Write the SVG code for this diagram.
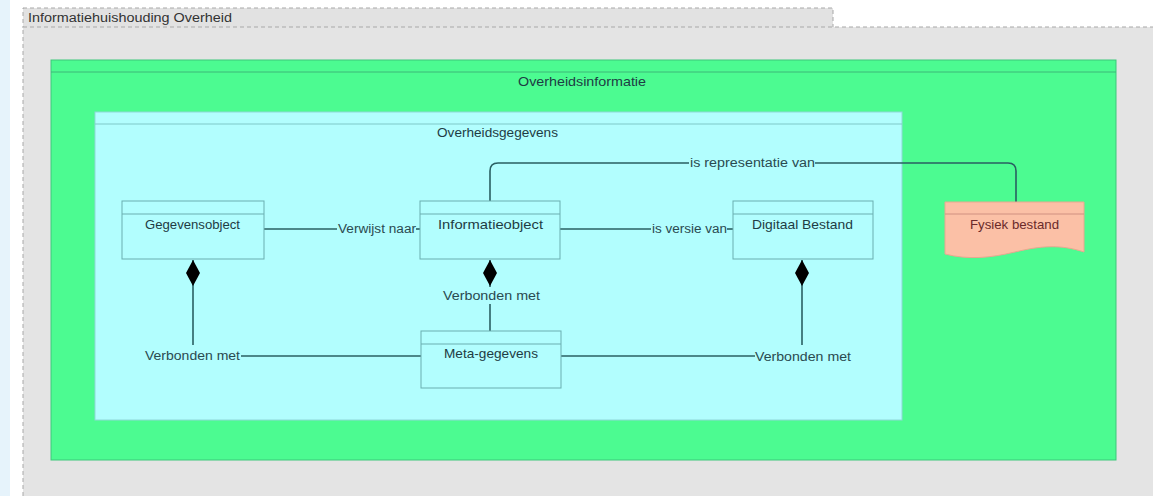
<svg xmlns="http://www.w3.org/2000/svg" width="1153" height="496" viewBox="0 0 1153 496">
<style>
text{font-family:"Liberation Sans",Arial,sans-serif;font-size:13px;fill:#1e3c44}
.node rect.box{fill:#b2fefe;stroke:#6aaeb0;stroke-width:1}
.hdr{stroke:#6aaeb0;stroke-width:1}
.conn path,.conn line{fill:none;stroke:#2a5f62;stroke-width:1.6}
.lbl{font-size:12.5px;fill:#2a4a50}
</style>
<defs>
<marker id="dia" viewBox="0 0 26 14" refX="0" refY="7" markerWidth="26" markerHeight="14" markerUnits="userSpaceOnUse" orient="auto">
<path d="M0 7 L13 0 L26 7 L13 14 Z" fill="#000"/>
</marker>
</defs>
<rect x="0" y="0" width="1153" height="496" fill="#ffffff"/>
<rect x="0" y="0" width="10" height="496" fill="#e6f3fb"/>
<g id="frame">
<rect x="23" y="8" width="810" height="20" fill="#e2e2e2" stroke="#a8a8a8" stroke-dasharray="4,3" stroke-width="1"/>
<rect x="23" y="27" width="1135" height="475" fill="#e4e4e4" stroke="#a8a8a8" stroke-dasharray="4,3" stroke-width="1"/>
<text x="28" y="22" textLength="204" lengthAdjust="spacingAndGlyphs" style="font-size:12.5px;fill:#333">Informatiehuishouding Overheid</text>
</g>
<g id="overheidsinformatie">
<rect x="51" y="60" width="1065" height="400" fill="#4cfb91" stroke="#3cc77a" stroke-width="1"/>
<line x1="51" y1="72" x2="1116" y2="72" stroke="#3cb878" stroke-width="1"/>
<text x="518" y="86" textLength="128" lengthAdjust="spacingAndGlyphs">Overheidsinformatie</text>
</g>
<g id="overheidsgegevens">
<rect x="95" y="112" width="807" height="308" fill="#b2fefe" stroke="#8ed8d8" stroke-width="1"/>
<line x1="95" y1="124" x2="902" y2="124" stroke="#7ec8c8" stroke-width="1"/>
<text x="437" y="137" textLength="121" lengthAdjust="spacingAndGlyphs">Overheidsgegevens</text>
</g>
<g class="conn" id="connectors">
<line x1="264" y1="229" x2="337" y2="229"/>
<line x1="416" y1="229" x2="420" y2="229"/>
<line x1="560" y1="229" x2="651" y2="229"/>
<line x1="727" y1="229" x2="733" y2="229"/>
<path d="M490 202 V171 Q490 163 498 163 H689"/>
<path d="M815 163 H1008 Q1016 163 1016 171 V202"/>
<line x1="193" y1="260" x2="193" y2="345" marker-start="url(#dia)"/>
<line x1="241" y1="356" x2="421" y2="356"/>
<line x1="490" y1="260" x2="490" y2="287" marker-start="url(#dia)"/>
<line x1="490" y1="304" x2="490" y2="331"/>
<line x1="802" y1="260" x2="802" y2="345" marker-start="url(#dia)"/>
<line x1="561" y1="356" x2="755" y2="356"/>
<text class="lbl" x="338" y="233" textLength="78" lengthAdjust="spacingAndGlyphs">Verwijst naar</text>
<text class="lbl" x="652" y="233" textLength="75" lengthAdjust="spacingAndGlyphs">is versie van</text>
<text class="lbl" x="690" y="167" textLength="125" lengthAdjust="spacingAndGlyphs">is representatie van</text>
<text class="lbl" x="443" y="300" textLength="97" lengthAdjust="spacingAndGlyphs">Verbonden met</text>
<text class="lbl" x="145" y="360" textLength="95" lengthAdjust="spacingAndGlyphs">Verbonden met</text>
<text class="lbl" x="755" y="361" textLength="96" lengthAdjust="spacingAndGlyphs">Verbonden met</text>
</g>
<g class="node" id="gegevensobject">
<rect class="box" x="122" y="201" width="142" height="58"/>
<line class="hdr" x1="122" y1="214" x2="264" y2="214"/>
<text x="145" y="229" textLength="95" lengthAdjust="spacingAndGlyphs">Gegevensobject</text>
</g>
<g class="node" id="informatieobject">
<rect class="box" x="420" y="201" width="140" height="58"/>
<line class="hdr" x1="420" y1="214" x2="560" y2="214"/>
<text x="438" y="229" textLength="105" lengthAdjust="spacingAndGlyphs">Informatieobject</text>
</g>
<g class="node" id="digitaal-bestand">
<rect class="box" x="733" y="201" width="140" height="58"/>
<line class="hdr" x1="733" y1="214" x2="873" y2="214"/>
<text x="752" y="229" textLength="101" lengthAdjust="spacingAndGlyphs">Digitaal Bestand</text>
</g>
<g class="node" id="meta-gegevens">
<rect class="box" x="421" y="331" width="140" height="57"/>
<line class="hdr" x1="421" y1="344" x2="561" y2="344"/>
<text x="444" y="358" textLength="94" lengthAdjust="spacingAndGlyphs">Meta-gegevens</text>
</g>
<g class="node" id="fysiek-bestand">
<path d="M945 202 H1084 V252 C1060 244 1040 246 1015 252 C990 258 968 260 945 254 Z" fill="#fbc0a6" stroke="#e8a890" stroke-width="1"/>
<line x1="945" y1="214" x2="1084" y2="214" stroke="#d09080" stroke-width="1"/>
<text x="970" y="229" textLength="89" lengthAdjust="spacingAndGlyphs" style="fill:#6a2a2a">Fysiek bestand</text>
</g>
</svg>
